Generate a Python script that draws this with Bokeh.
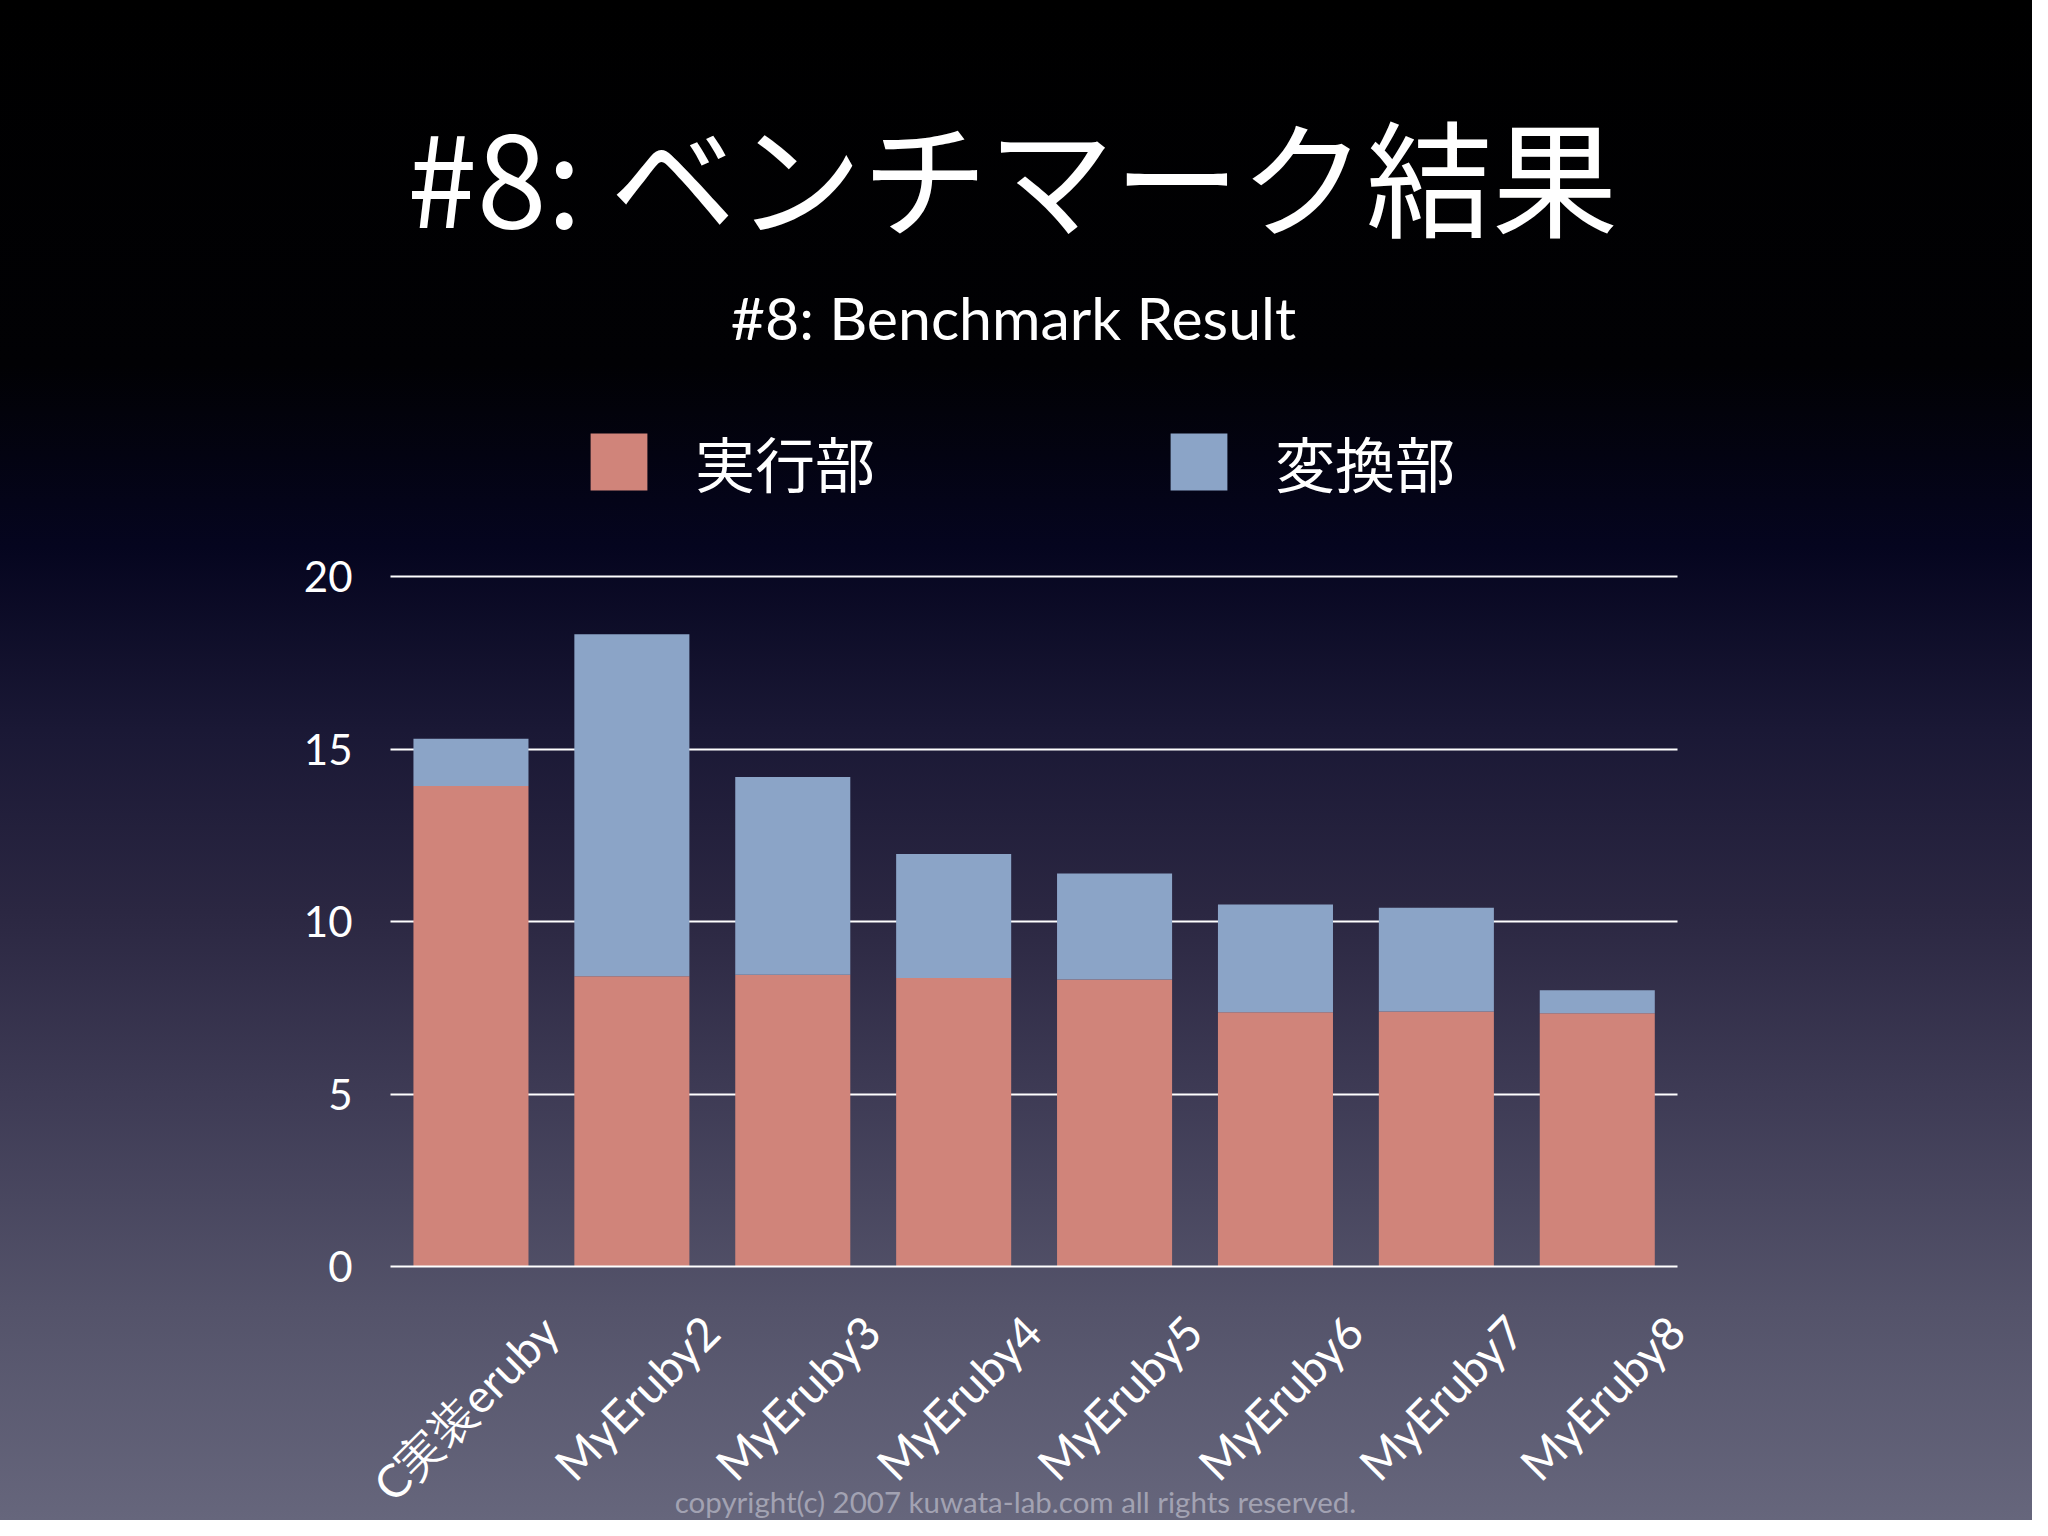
import math
from bokeh.plotting import figure
from bokeh.models import (Range1d, FixedTicker, Label, Legend, LegendItem,
                          InlineStyleSheet, ColumnDataSource)
from bokeh.embed import file_html
from bokeh.resources import INLINE

# ---------------- data ----------------
categories = ["C実装eruby", "MyEruby2", "MyEruby3", "MyEruby4",
              "MyEruby5", "MyEruby6", "MyEruby7", "MyEruby8"]
exec_part = [13.93, 8.41, 8.46, 8.36, 8.32, 7.37, 7.39, 7.34]   # 実行部
conv_part = [1.37, 9.92, 5.73, 3.60, 3.07, 3.12, 3.01, 0.67]    # 変換部
series_names = ["実行部", "変換部"]
series_colors = ["#d0847a", "#8ba4c7"]
y_ticks = [0, 5, 10, 15, 20]
title_text = "#8: ベンチマーク結果"
subtitle_text = "#8: Benchmark Result"
copyright_text = "copyright(c) 2007 kuwata-lab.com all rights reserved."

# ---------------- figure ----------------
# The frame covers the whole canvas; axes are drawn at fixed locations inside it
W, H = 2032, 1520
idx = list(range(len(categories)))
n = len(categories)
src = ColumnDataSource(dict(x=idx, cat=categories, exec=exec_part, conv=conv_part))

p = figure(width=W, height=H, output_backend="svg", toolbar_location=None,
           x_range=Range1d(-2.924, 9.705),
           y_range=Range1d(-7.362, 36.696),
           min_border=0)

p.stylesheets = [InlineStyleSheet(css=(
    ":host { background: linear-gradient(to bottom, #000000 0%, #010104 24%, "
    "#05051f 36%, #1a1835 48%, #2b2742 60%, #3e3b55 72%, #54536a 86%, #66667c 100%); }"
))]
p.background_fill_color = None
p.border_fill_color = None
p.outline_line_color = None

# horizontal grid lines limited to the category span
p.xgrid.grid_line_color = None
grid_ok = True
try:
    p.ygrid.cross_bounds = (-0.5, n - 0.5)
except AttributeError:
    grid_ok = False
if grid_ok:
    p.ygrid.ticker = FixedTicker(ticks=y_ticks[1:])
    p.ygrid.grid_line_color = "white"
    p.ygrid.grid_line_width = 2
else:
    p.ygrid.grid_line_color = None
    p.segment(x0=[-0.5] * (len(y_ticks) - 1), x1=[n - 0.5] * (len(y_ticks) - 1),
              y0=y_ticks[1:], y1=y_ticks[1:], line_color="white", line_width=2)

renderers = p.vbar_stack(["exec", "conv"], x="x", width=0.715, source=src,
                         fill_color=series_colors, line_color=None)

# y axis at the left edge of the category span
p.yaxis.fixed_location = -0.5
p.yaxis.bounds = (y_ticks[0], y_ticks[-1])
p.yaxis.ticker = FixedTicker(ticks=y_ticks)
p.yaxis.axis_line_color = None
p.yaxis.major_tick_line_color = None
p.yaxis.minor_tick_line_color = None
p.yaxis.major_label_text_color = "white"
p.yaxis.major_label_text_font = "Lato"
p.yaxis.major_label_text_font_size = "42px"
p.yaxis.major_label_standoff = 32

# x axis at value 0
tick_pos = [i + 0.49 for i in idx]
p.xaxis.fixed_location = 0
p.xaxis.bounds = (-0.5, n - 0.5)
p.xaxis.ticker = FixedTicker(ticks=tick_pos)
p.xaxis.major_label_overrides = {t: c for t, c in zip(tick_pos, categories)}
p.xaxis.major_label_orientation = math.pi / 4
p.xaxis.axis_line_color = "white"
p.xaxis.axis_line_width = 2
p.xaxis.major_tick_line_color = None
p.xaxis.minor_tick_line_color = None
p.xaxis.major_label_text_color = "white"
p.xaxis.major_label_text_font = "Lato"
p.xaxis.major_label_text_font_size = "46px"
p.xaxis.major_label_standoff = 51

# legend (location = bottom-left corner, px from the frame's bottom-left)
legend = Legend(items=[LegendItem(label=s, renderers=[r]) for s, r in zip(series_names, renderers)],
                orientation="horizontal", location=(583, 1015),
                glyph_width=71, glyph_height=71, label_standoff=41, spacing=288,
                label_text_baseline="middle",
                label_text_font="Noto Sans CJK JP", label_text_font_size="60px",
                label_text_color="white", padding=0, margin=0,
                border_line_color=None, background_fill_alpha=0)
p.add_layout(legend)

# texts (screen px from the canvas' bottom-left)
p.add_layout(Label(x=1012, y=1348, x_units="screen", y_units="screen", text=title_text,
                   text_font="Noto Sans CJK JP", text_font_size="126px", text_color="white",
                   text_align="center", text_baseline="middle"))
p.add_layout(Label(x=1013, y=1203, x_units="screen", y_units="screen", text=subtitle_text,
                   text_font="Lato", text_font_size="59px", text_color="white",
                   text_align="center", text_baseline="alphabetic"))
p.add_layout(Label(x=1015, y=19, x_units="screen", y_units="screen", text=copyright_text,
                   text_font="Lato", text_font_size="29.5px", text_color="#a2a2b2",
                   text_align="center", text_baseline="middle"))

open("out.html", "w").write(file_html(p, INLINE))
